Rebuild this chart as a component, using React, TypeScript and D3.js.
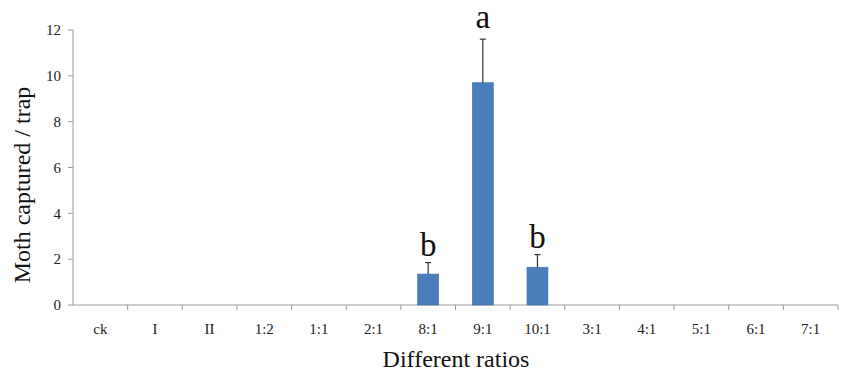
import React, { useEffect, useRef } from 'react';
import * as d3 from 'd3';

// Trap catches by sex pheromone ratio
const ratios = ['ck', 'I', 'II', '1:2', '1:1', '2:1', '8:1', '9:1', '10:1', '3:1', '4:1', '5:1', '6:1', '7:1'];
const means = [0, 0, 0, 0, 0, 0, 1.35, 9.7, 1.65, 0, 0, 0, 0, 0];
const errors = [0, 0, 0, 0, 0, 0, 0.5, 1.9, 0.55, 0, 0, 0, 0, 0];
const letters = ['', '', '', '', '', '', 'b', 'a', 'b', '', '', '', '', ''];
const yTicks = [0, 2, 4, 6, 8, 10, 12];

const App = () => {
  const svgRef = useRef<SVGSVGElement>(null);

  useEffect(() => {
    const W = 846;
    const H = 376;
    const margin = { top: 30, right: 8, bottom: 71, left: 73 };
    const width = W - margin.left - margin.right;
    const height = H - margin.top - margin.bottom;

    const root = d3.select(svgRef.current);
    root.selectAll('*').remove();

    const svg = root.append('g')
      .attr('transform', `translate(${margin.left},${margin.top})`);

    const data = ratios.map((r, i) => ({ r, v: means[i], e: errors[i], l: letters[i] }));

    const x = d3.scaleBand().domain(ratios).range([0, width]);
    const y = d3.scaleLinear().domain([0, 12]).range([height, 0]);
    const barW = 21;
    const font = '"Liberation Serif", "Times New Roman", serif';
    const axisColor = '#999999';

    // y axis
    svg.append('line')
      .attr('x1', 0).attr('x2', 0)
      .attr('y1', y(12)).attr('y2', y(0))
      .attr('stroke', axisColor);
    yTicks.forEach(t => {
      svg.append('line')
        .attr('x1', -5).attr('x2', 0)
        .attr('y1', y(t)).attr('y2', y(t))
        .attr('stroke', axisColor);
      svg.append('text')
        .attr('x', -12).attr('y', y(t))
        .attr('dy', '0.35em')
        .attr('text-anchor', 'end')
        .style('font-family', font)
        .style('font-size', '15px')
        .attr('fill', '#222')
        .text(t);
    });

    // x axis
    svg.append('line')
      .attr('x1', 0).attr('x2', width)
      .attr('y1', height).attr('y2', height)
      .attr('stroke', axisColor);
    ratios.forEach(r => {
      const px = (x(r) as number) + x.bandwidth();
      svg.append('line')
        .attr('x1', px).attr('x2', px)
        .attr('y1', height).attr('y2', height + 5)
        .attr('stroke', axisColor);
      svg.append('text')
        .attr('x', (x(r) as number) + x.bandwidth() / 2)
        .attr('y', height + 29)
        .attr('text-anchor', 'middle')
        .style('font-family', font)
        .style('font-size', '15px')
        .attr('fill', '#222')
        .text(r);
    });

    // bars
    svg.selectAll('rect.bar')
      .data(data.filter(d => d.v > 0))
      .join('rect')
      .attr('class', 'bar')
      .attr('x', d => (x(d.r) as number) + x.bandwidth() / 2 - barW / 2)
      .attr('y', d => y(d.v))
      .attr('width', barW)
      .attr('height', d => height - y(d.v))
      .attr('fill', '#4a7ebb')
      .attr('stroke', '#3f72ad')
      .attr('stroke-width', 0.6);

    // error bars (upper only)
    data.filter(d => d.e > 0).forEach(d => {
      const cx = (x(d.r) as number) + x.bandwidth() / 2;
      svg.append('line')
        .attr('x1', cx).attr('x2', cx)
        .attr('y1', y(d.v)).attr('y2', y(d.v + d.e))
        .attr('stroke', '#333').attr('stroke-width', 1.2);
      svg.append('line')
        .attr('x1', cx - 3).attr('x2', cx + 3)
        .attr('y1', y(d.v + d.e)).attr('y2', y(d.v + d.e))
        .attr('stroke', '#333').attr('stroke-width', 1.2);
    });

    // significance letters
    data.filter(d => d.l).forEach(d => {
      svg.append('text')
        .attr('x', (x(d.r) as number) + x.bandwidth() / 2)
        .attr('y', y(d.v + d.e) - (d.l === 'a' ? 11 : 7))
        .attr('text-anchor', 'middle')
        .style('font-family', font)
        .style('font-size', '33px')
        .attr('fill', '#111')
        .text(d.l);
    });

    // axis titles
    svg.append('text')
      .attr('transform', 'rotate(-90)')
      .attr('x', -(185 - margin.top))
      .attr('y', -43)
      .attr('text-anchor', 'middle')
      .style('font-family', font)
      .style('font-size', '24px')
      .attr('fill', '#111')
      .text('Moth captured / trap');

    svg.append('text')
      .attr('x', 456 - margin.left)
      .attr('y', height + 62)
      .attr('text-anchor', 'middle')
      .style('font-family', font)
      .style('font-size', '24px')
      .attr('fill', '#111')
      .text('Different ratios');
  }, []);

  return (
    <svg
      ref={svgRef}
      width={846}
      height={376}
      style={{ position: 'absolute', left: 0, top: 0, background: '#fff' }}
    />
  );
};

export default App;
